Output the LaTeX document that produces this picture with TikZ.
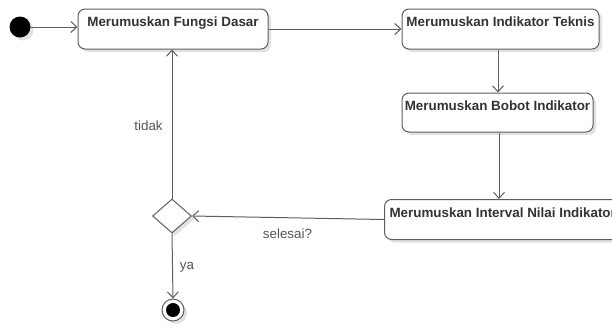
\documentclass[tikz,border=0pt]{standalone}
\usepackage{fontspec}
\setmainfont{Liberation Sans}
\usetikzlibrary{arrows.meta,shapes.geometric,shadows,calc}
\definecolor{edge}{HTML}{5E5E5E}
\definecolor{ink}{HTML}{333333}
\definecolor{note}{HTML}{555555}
\definecolor{shade}{HTML}{E2E2E2}
\tikzset{
  shadowed/.style={drop shadow={shadow xshift=3pt, shadow yshift=-3pt, fill=shade, opacity=1}},
  action/.style={draw=edge, line width=1pt, rounded corners=7pt, fill=white, shadowed,
    inner xsep=0pt, inner ysep=4.7pt, text height=13pt, text depth=17.6pt,
    font=\fontsize{13.4}{14}\selectfont\bfseries, text=ink},
  flow/.style={draw=edge, line width=1pt, -{Straight Barb[length=6pt,width=11pt,line width=1pt]}},
  guard/.style={text=note, font=\fontsize{13.4}{14}\selectfont},
}
\begin{document}
\begin{tikzpicture}[x=1pt,y=-1pt]
  \useasboundingbox (0,0) rectangle (612,327);
  \clip (0,0) rectangle (612,327);
  % start and end states
  \node[circle, fill=black, minimum size=21pt, inner sep=0pt, shadowed] (start) at (20,27) {};
  \node[circle, draw=edge, line width=1pt, fill=white, minimum size=22pt, inner sep=0pt, shadowed] (stop) at (173,310) {};
  \node[circle, fill=black, minimum size=14pt, inner sep=0pt] (stopdot) at (stop) {};
  % actions
  \node[action, minimum width=190pt] (fungsi) at (173,29) {Merumuskan Fungsi Dasar};
  \node[action, minimum width=197pt] (teknis) at (500.5,29) {Merumuskan Indikator Teknis};
  \node[action, minimum width=191pt, inner ysep=4.2pt] (bobot) at (497.5,112.5) {Merumuskan Bobot Indikator};
  \node[action, anchor=west] (interval) at (384,219.5) {\hspace*{5pt}Merumuskan Interval Nilai Indikator\hspace*{8pt}};
  % decision
  \node[diamond, draw=edge, line width=1pt, fill=white, minimum width=39pt, minimum height=34pt,
        inner sep=0pt, aspect=1.15, shadowed] (cek) at (172,216) {};
  % transitions
  \draw[flow] (start) -- (start -| fungsi.west);
  \draw[flow] (fungsi.east) -- (teknis.west);
  \draw[flow] (teknis.south -| 498,0) -- (498,0 |- bobot.north);
  \draw[flow] (bobot.south -| 499,0) -- (499,0 |- interval.north);
  \draw[flow] (interval.west) -- (cek.east);
  \draw[flow] (cek.north) -- (cek.north |- fungsi.south);
  \draw[flow] (cek.south) -- (stop.north);
  % guards
  \node[guard] (tidak) at (148.5,126) {tidak};
  \node[guard] (selesai) at (287.5,234) {selesai?};
  \node[guard] (ya) at (187,267) {ya};
\end{tikzpicture}
\end{document}
